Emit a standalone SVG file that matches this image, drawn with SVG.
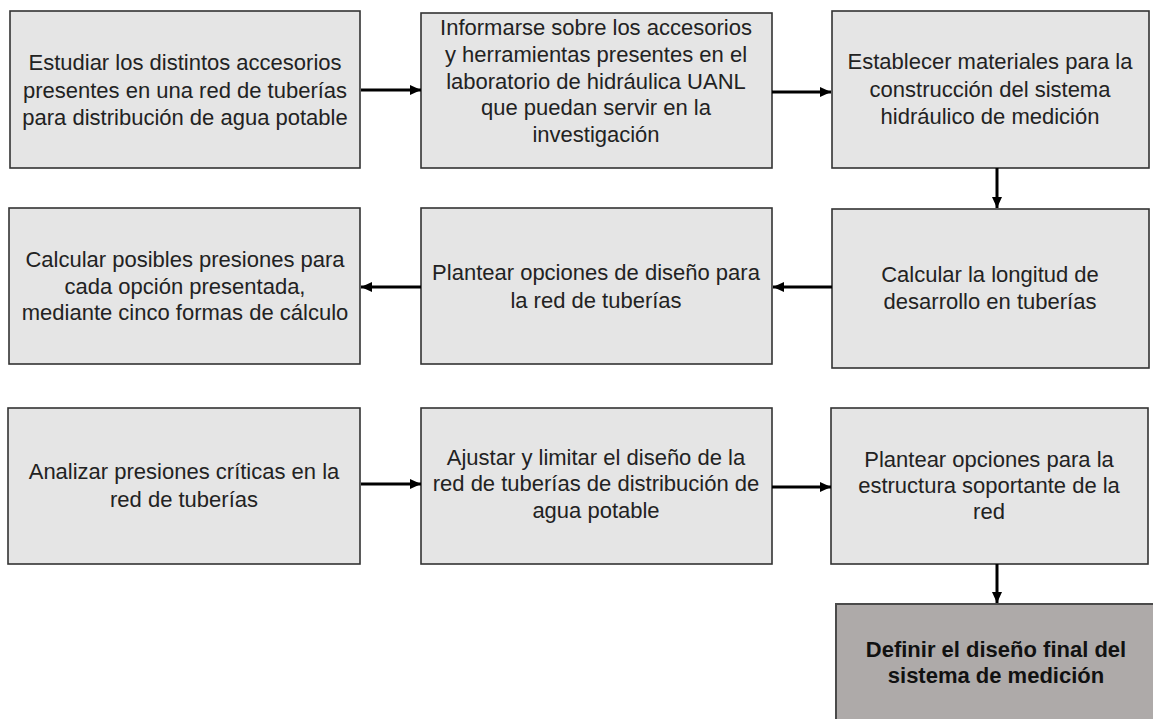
<svg xmlns="http://www.w3.org/2000/svg" width="1153" height="719" viewBox="0 0 1153 719">
<defs>
<style>
.box{fill:#e5e5e5;stroke:#333333;stroke-width:1.6}
.final{fill:#aeaaa9;stroke:#4a4a4a;stroke-width:2}
.t{font-family:"Liberation Sans",Arial,sans-serif;font-size:22px;fill:#222222;text-anchor:middle}
.b{font-weight:bold;fill:#111111}
.c{stroke:#000000;stroke-width:3;fill:none;marker-end:url(#ah)}
</style>
<marker id="ah" markerUnits="userSpaceOnUse" markerWidth="12" markerHeight="10" refX="11" refY="5" orient="auto">
<path d="M0,0 L11,5 L0,10 Z" fill="#000000"/>
</marker>
</defs>
<rect width="1153" height="719" fill="#ffffff"/>
<g id="n1"><rect class="box" x="10" y="11" width="350" height="157"/>
<text class="t" x="185" y="70">Estudiar los distintos accesorios</text>
<text class="t" x="185" y="98">presentes en una red de tuberías</text>
<text class="t" x="185" y="125">para distribución de agua potable</text></g>
<g id="n2"><rect class="box" x="421" y="13" width="351" height="155"/>
<text class="t" x="596" y="35">Informarse sobre los accesorios</text>
<text class="t" x="596" y="62">y herramientas presentes en el</text>
<text class="t" x="596" y="89">laboratorio de hidráulica UANL</text>
<text class="t" x="596" y="115">que puedan servir en la</text>
<text class="t" x="596" y="142">investigación</text></g>
<g id="n3"><rect class="box" x="832" y="11" width="317" height="157"/>
<text class="t" x="990" y="69">Establecer materiales para la</text>
<text class="t" x="990" y="97">construcción del sistema</text>
<text class="t" x="990" y="124">hidráulico de medición</text></g>
<g id="n4"><rect class="box" x="832" y="209" width="317" height="159"/>
<text class="t" x="990" y="282">Calcular la longitud de</text>
<text class="t" x="990" y="309">desarrollo en tuberías</text></g>
<g id="n5"><rect class="box" x="421" y="208" width="351" height="156"/>
<text class="t" x="596" y="280">Plantear opciones de diseño para</text>
<text class="t" x="596" y="308">la red de tuberías</text></g>
<g id="n6"><rect class="box" x="9" y="208" width="351" height="156"/>
<text class="t" x="185" y="267">Calcular posibles presiones para</text>
<text class="t" x="185" y="294">cada opción presentada,</text>
<text class="t" x="185" y="320">mediante cinco formas de cálculo</text></g>
<g id="n7"><rect class="box" x="8" y="408" width="352" height="156"/>
<text class="t" x="184" y="479">Analizar presiones críticas en la</text>
<text class="t" x="184" y="507">red de tuberías</text></g>
<g id="n8"><rect class="box" x="421" y="408" width="351" height="156"/>
<text class="t" x="596" y="465">Ajustar y limitar el diseño de la</text>
<text class="t" x="596" y="491">red de tuberías de distribución de</text>
<text class="t" x="596" y="518">agua potable</text></g>
<g id="n9"><rect class="box" x="831" y="408" width="317" height="156"/>
<text class="t" x="989" y="467">Plantear opciones para la</text>
<text class="t" x="989" y="493">estructura soportante de la</text>
<text class="t" x="989" y="519">red</text></g>
<g id="n10"><rect class="final" x="836" y="604" width="330" height="130"/>
<text class="t b" x="996" y="657">Definir el diseño final del</text>
<text class="t b" x="996" y="683">sistema de medición</text></g>
<g id="connectors">
<line class="c" x1="361" y1="90" x2="421" y2="90"/>
<line class="c" x1="772" y1="92" x2="831" y2="92"/>
<line class="c" x1="997" y1="168" x2="997" y2="208"/>
<line class="c" x1="832" y1="287" x2="773" y2="287"/>
<line class="c" x1="421" y1="287" x2="361" y2="287"/>
<line class="c" x1="361" y1="484" x2="421" y2="484"/>
<line class="c" x1="772" y1="487" x2="831" y2="487"/>
<line class="c" x1="997" y1="564" x2="997" y2="603"/>
</g>
</svg>
